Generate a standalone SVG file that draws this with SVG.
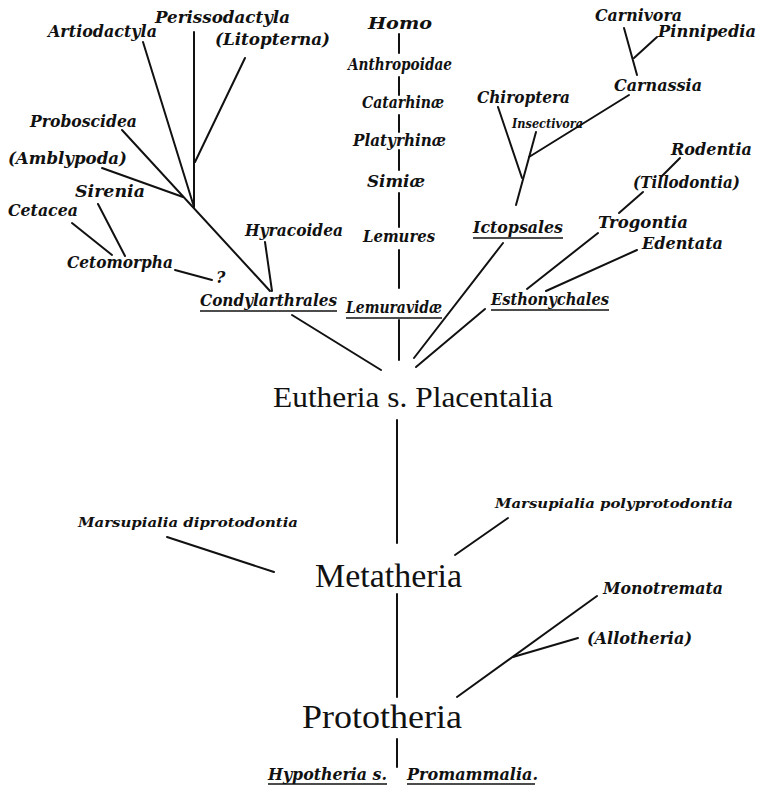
<svg xmlns="http://www.w3.org/2000/svg" width="758" height="787" viewBox="0 0 758 787">
<style>
.l{font-family:"DejaVu Serif","Liberation Serif",serif;font-style:italic;font-weight:bold;font-size:16px;fill:#111}
.s{font-size:12.5px}
.m{font-family:"Liberation Serif","Times New Roman",serif;fill:#111}
.c{stroke:#111;stroke-width:2;fill:none;stroke-linecap:round}
.u{stroke:#111;stroke-width:1.6;fill:none}
</style>
<rect width="758" height="787" fill="#fff"/>
<g id="connectors" class="c">
<line x1="143" y1="42" x2="194" y2="207"/>
<line x1="194" y1="32" x2="194" y2="207"/>
<line x1="245" y1="58" x2="195" y2="162"/>
<line x1="122" y1="130" x2="270" y2="291"/>
<line x1="102" y1="168" x2="183" y2="197"/>
<line x1="265" y1="242" x2="272" y2="291"/>
<line x1="72" y1="223" x2="112" y2="255"/>
<line x1="98" y1="204" x2="125" y2="256"/>
<line x1="175" y1="270" x2="212" y2="280"/>
<line x1="292" y1="315" x2="381" y2="370"/>
<line x1="399" y1="34" x2="399" y2="53"/>
<line x1="399" y1="77" x2="399" y2="95"/>
<line x1="399" y1="115" x2="399" y2="132"/>
<line x1="399" y1="150" x2="399" y2="170"/>
<line x1="399" y1="193" x2="399" y2="227"/>
<line x1="399" y1="250" x2="399" y2="288"/>
<line x1="399" y1="320" x2="399" y2="360"/>
<line x1="624" y1="28" x2="637" y2="75"/>
<line x1="657" y1="37" x2="634" y2="58"/>
<line x1="629" y1="95" x2="529" y2="157"/>
<line x1="498" y1="107" x2="522" y2="178"/>
<line x1="536" y1="132" x2="516" y2="205"/>
<line x1="503" y1="243" x2="414" y2="358"/>
<line x1="680" y1="158" x2="662" y2="176"/>
<line x1="643" y1="192" x2="619" y2="213"/>
<line x1="598" y1="233" x2="527" y2="289"/>
<line x1="637" y1="250" x2="546" y2="291"/>
<line x1="485" y1="309" x2="416" y2="367"/>
<line x1="397" y1="420" x2="397" y2="543"/>
<line x1="167" y1="537" x2="274" y2="572"/>
<line x1="508" y1="518" x2="455" y2="555"/>
<line x1="397" y1="594" x2="397" y2="697"/>
<line x1="597" y1="596" x2="457" y2="697"/>
<line x1="578" y1="638" x2="513" y2="657"/>
<line x1="397" y1="739" x2="397" y2="767"/>
</g>
<g id="artiodactyla"><text class="l" x="48" y="37" textLength="109" lengthAdjust="spacingAndGlyphs">Artiodactyla</text></g>
<g id="perissodactyla"><text class="l" x="155" y="23" textLength="135" lengthAdjust="spacingAndGlyphs">Perissodactyla</text></g>
<g id="litopterna"><text class="l" x="215" y="45" textLength="115" lengthAdjust="spacingAndGlyphs">(Litopterna)</text></g>
<g id="proboscidea"><text class="l" x="30" y="127" textLength="107" lengthAdjust="spacingAndGlyphs">Proboscidea</text></g>
<g id="amblypoda"><text class="l" x="8" y="164" textLength="119" lengthAdjust="spacingAndGlyphs">(Amblypoda)</text></g>
<g id="sirenia"><text class="l" x="75" y="197" textLength="70" lengthAdjust="spacingAndGlyphs">Sirenia</text></g>
<g id="cetacea"><text class="l" x="8" y="216" textLength="70" lengthAdjust="spacingAndGlyphs">Cetacea</text></g>
<g id="cetomorpha"><text class="l" x="67" y="268" textLength="106" lengthAdjust="spacingAndGlyphs">Cetomorpha</text></g>
<g id="query"><text class="l" x="216" y="283" font-size="13">?</text></g>
<g id="hyracoidea"><text class="l" x="245" y="236" textLength="98" lengthAdjust="spacingAndGlyphs">Hyracoidea</text></g>
<g id="condylarthrales"><text class="l" x="200" y="306" textLength="137" lengthAdjust="spacingAndGlyphs">Condylarthrales</text><line class="u" x1="200" y1="311" x2="337" y2="311"/></g>
<g id="homo"><text class="l" x="368" y="29" font-size="21" textLength="64" lengthAdjust="spacingAndGlyphs">Homo</text></g>
<g id="anthropoidae"><text class="l" x="348" y="70" textLength="104" lengthAdjust="spacingAndGlyphs">Anthropoidae</text></g>
<g id="catarhinae"><text class="l" x="362" y="108" font-size="15" textLength="82" lengthAdjust="spacingAndGlyphs">Catarhinæ</text></g>
<g id="platyrhinae"><text class="l" x="353" y="146" textLength="93" lengthAdjust="spacingAndGlyphs">Platyrhinæ</text></g>
<g id="simiae"><text class="l" x="367" y="187" textLength="58" lengthAdjust="spacingAndGlyphs">Simiæ</text></g>
<g id="lemures"><text class="l" x="363" y="242" textLength="72" lengthAdjust="spacingAndGlyphs">Lemures</text></g>
<g id="lemuravidae"><text class="l" x="346" y="313" textLength="96" lengthAdjust="spacingAndGlyphs">Lemuravidæ</text><line class="u" x1="346" y1="318" x2="442" y2="318"/></g>
<g id="chiroptera"><text class="l" x="477" y="103" textLength="93" lengthAdjust="spacingAndGlyphs">Chiroptera</text></g>
<g id="insectivora"><text class="l s" x="512" y="128" textLength="71" lengthAdjust="spacingAndGlyphs">Insectivora</text></g>
<g id="carnassia"><text class="l" x="614" y="91" textLength="88" lengthAdjust="spacingAndGlyphs">Carnassia</text></g>
<g id="carnivora"><text class="l" x="595" y="21" textLength="87" lengthAdjust="spacingAndGlyphs">Carnivora</text></g>
<g id="pinnipedia"><text class="l" x="658" y="37" textLength="98" lengthAdjust="spacingAndGlyphs">Pinnipedia</text></g>
<g id="rodentia"><text class="l" x="671" y="155" textLength="81" lengthAdjust="spacingAndGlyphs">Rodentia</text></g>
<g id="tillodontia"><text class="l" x="633" y="188" textLength="107" lengthAdjust="spacingAndGlyphs">(Tillodontia)</text></g>
<g id="ictopsales"><text class="l" x="473" y="233" textLength="90" lengthAdjust="spacingAndGlyphs">Ictopsales</text><line class="u" x1="473" y1="238" x2="563" y2="238"/></g>
<g id="trogontia"><text class="l" x="598" y="228" textLength="90" lengthAdjust="spacingAndGlyphs">Trogontia</text></g>
<g id="edentata"><text class="l" x="642" y="249" textLength="81" lengthAdjust="spacingAndGlyphs">Edentata</text></g>
<g id="esthonychales"><text class="l" x="491" y="305" textLength="118" lengthAdjust="spacingAndGlyphs">Esthonychales</text><line class="u" x1="491" y1="310" x2="609" y2="310"/></g>
<g id="eutheria"><text class="m" x="273" y="407" font-size="29" textLength="280" lengthAdjust="spacingAndGlyphs">Eutheria s. Placentalia</text></g>
<g id="diprotodontia"><text class="l s" x="78" y="527" textLength="220" lengthAdjust="spacingAndGlyphs">Marsupialia diprotodontia</text></g>
<g id="polyprotodontia"><text class="l s" x="495" y="508" textLength="238" lengthAdjust="spacingAndGlyphs">Marsupialia polyprotodontia</text></g>
<g id="metatheria"><text class="m" x="315" y="587" font-size="33" textLength="147" lengthAdjust="spacingAndGlyphs">Metatheria</text></g>
<g id="monotremata"><text class="l" x="603" y="594" font-size="15" textLength="120" lengthAdjust="spacingAndGlyphs">Monotremata</text></g>
<g id="allotheria"><text class="l" x="587" y="644" font-size="15" textLength="105" lengthAdjust="spacingAndGlyphs">(Allotheria)</text></g>
<g id="prototheria"><text class="m" x="302" y="728" font-size="34" textLength="160" lengthAdjust="spacingAndGlyphs">Prototheria</text></g>
<g id="hypotheria"><text class="l" x="268" y="780" font-size="15" textLength="119" lengthAdjust="spacingAndGlyphs">Hypotheria s.</text><line class="u" x1="268" y1="784" x2="387" y2="784"/></g>
<g id="promammalia"><text class="l" x="407" y="780" font-size="15" textLength="131" lengthAdjust="spacingAndGlyphs">Promammalia.</text><line class="u" x1="407" y1="784" x2="535" y2="784"/></g>
</svg>
